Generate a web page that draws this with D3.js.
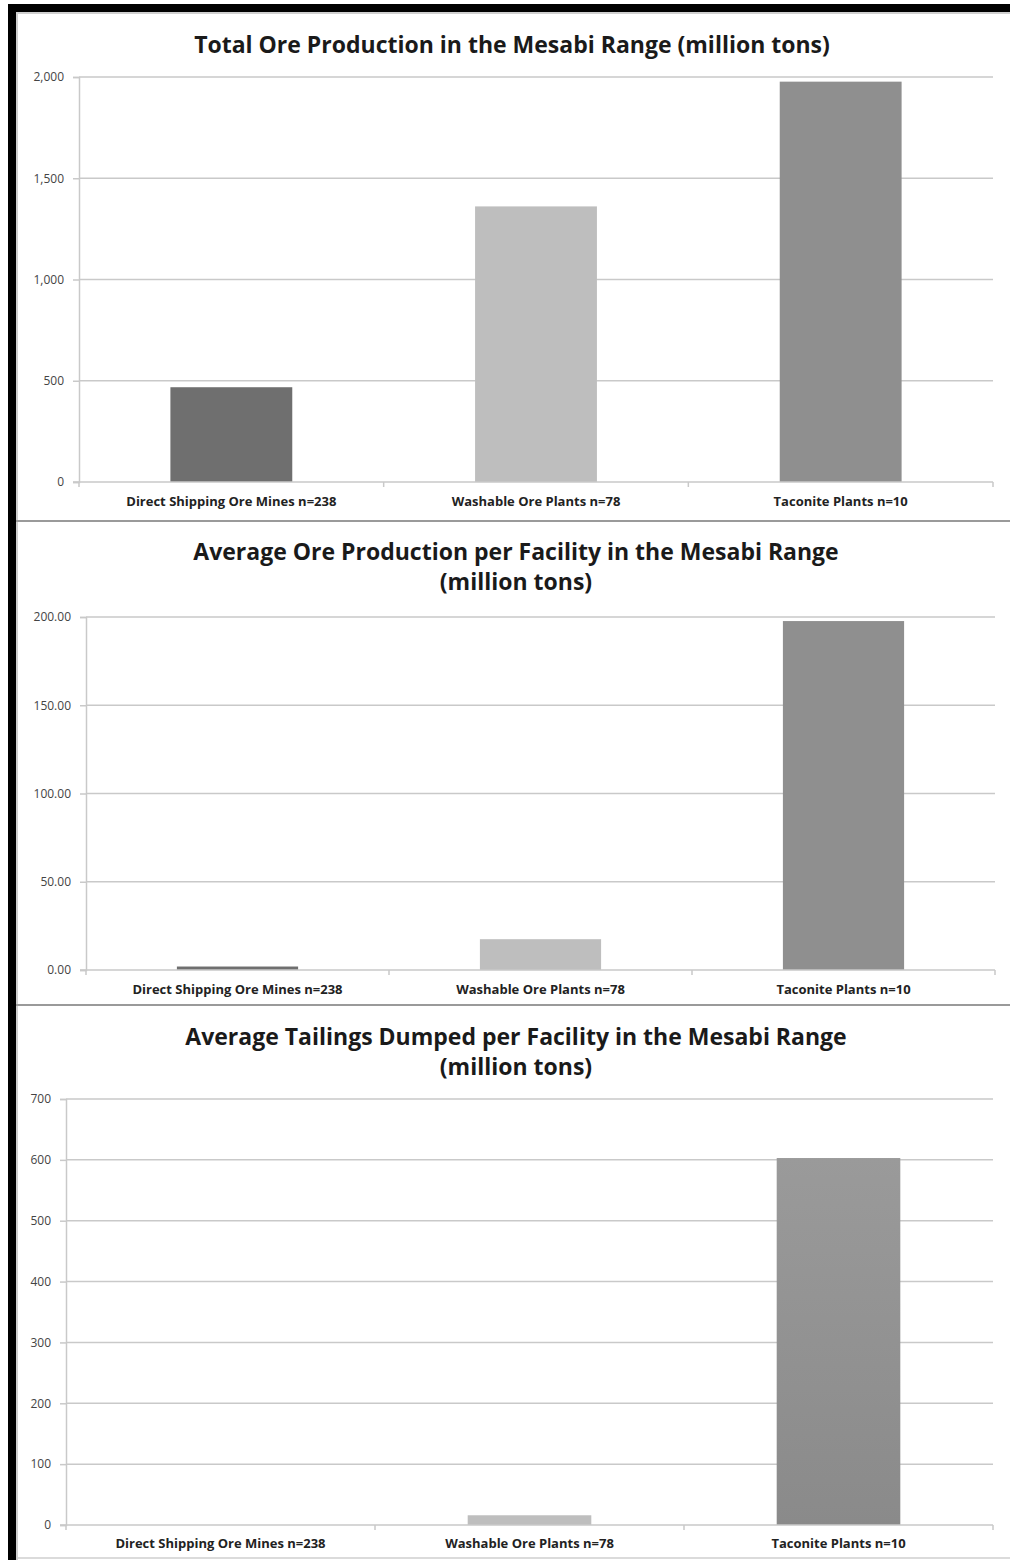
<!DOCTYPE html>
<html>
<head>
<meta charset="utf-8">
<script src="https://cdn.jsdelivr.net/npm/d3@7/dist/d3.min.js"></script>
<style>
  html, body { margin: 0; padding: 0; background: #fff; }
  svg { display: block; }
</style>
</head>
<body>
<script>
// Facility types on the Mesabi Range
const categories = ["Direct Shipping Ore Mines n=238", "Washable Ore Plants n=78", "Taconite Plants n=10"];

// Total ore production (million tons)
const totalProduction = [468, 1361, 1977];
// Average ore production per facility (million tons)
const avgProduction = [1.97, 17.45, 197.7];
// Average tailings dumped per facility (million tons)
const avgTailings = [0, 16, 603];

// Tick values for each panel
const ticksTotal = [0, 500, 1000, 1500, 2000];
const ticksAvgProd = [0, 50, 100, 150, 200];
const ticksTailings = [0, 100, 200, 300, 400, 500, 600, 700];

const barColors = ["#6f6f6f", "#bebebe", "#8f8f8f"];

const W = 1010, H = 1560;
const svg = d3.select("body").append("svg").attr("width", W).attr("height", H);

const defs = svg.append("defs");
const grad = defs.append("linearGradient").attr("id", "tacGrad")
  .attr("x1", 0).attr("y1", 0).attr("x2", 0).attr("y2", 1);
grad.append("stop").attr("offset", "0%").attr("stop-color", "#9a9a9a");
grad.append("stop").attr("offset", "100%").attr("stop-color", "#8a8a8a");

const FONT = "'Open Sans', Lato, sans-serif";

// Frame: heavy black edge on the left and top, thin grey rules elsewhere
svg.append("rect").attr("x", 8).attr("y", 4).attr("width", W - 8).attr("height", 8).attr("fill", "#000");
svg.append("rect").attr("x", 8).attr("y", 4).attr("width", 8).attr("height", H - 4).attr("fill", "#000");
svg.append("line").attr("x1", 16).attr("x2", W).attr("y1", 13).attr("y2", 13).attr("stroke", "#cfcfcf").attr("stroke-width", 2);
svg.append("line").attr("x1", 17).attr("x2", 17).attr("y1", 12).attr("y2", H).attr("stroke", "#cfcfcf").attr("stroke-width", 2);
[521, 1005].forEach(y => {
  svg.append("line").attr("x1", 16).attr("x2", W).attr("y1", y).attr("y2", y)
    .attr("stroke", "#9a9a9a").attr("stroke-width", 2);
});
svg.append("line").attr("x1", 16).attr("x2", W).attr("y1", 1558).attr("y2", 1558)
  .attr("stroke", "#cfcfcf").attr("stroke-width", 1.5);

function drawPanel(cfg) {
  const g = svg.append("g");

  cfg.title.forEach((t, i) => {
    g.append("text").attr("x", cfg.titleX).attr("y", cfg.titleY + i * 30)
      .attr("text-anchor", "middle").attr("font-family", FONT)
      .attr("font-weight", 700).attr("font-size", 23).attr("fill", "#1a1a1a")
      .text(t);
  });

  const x = d3.scaleBand().domain(categories).range([cfg.x0, cfg.x1]).paddingInner(0.6).paddingOuter(0.3);
  const band = d3.scaleBand().domain(categories).range([cfg.x0, cfg.x1]);
  const y = d3.scaleLinear().domain([0, cfg.max]).range([cfg.yBottom, cfg.yTop]);

  // Horizontal gridlines
  g.append("g").selectAll("line").data(cfg.ticks.filter(d => d > 0)).join("line")
    .attr("x1", cfg.x0).attr("x2", cfg.x1)
    .attr("y1", d => y(d)).attr("y2", d => y(d))
    .attr("stroke", "#c9c9c9").attr("stroke-width", 1.5);

  // Y axis
  const yAxis = d3.axisLeft(y).tickValues(cfg.ticks).tickFormat(cfg.fmt).tickSize(6).tickPadding(9);
  const ya = g.append("g").attr("transform", `translate(${cfg.x0},0)`).call(yAxis);
  ya.select(".domain").attr("stroke", "#c9c9c9").attr("stroke-width", 1.5);
  ya.selectAll(".tick line").attr("stroke", "#c9c9c9").attr("stroke-width", 1.5);
  ya.selectAll(".tick text").attr("font-family", FONT).attr("font-size", 12).attr("fill", "#444");

  // Bars
  const vals = cfg.values;
  g.append("g").selectAll("rect").data(categories).join("rect")
    .attr("x", d => x(d)).attr("width", x.bandwidth())
    .attr("y", (d, i) => y(vals[i]))
    .attr("height", (d, i) => y(0) - y(vals[i]))
    .attr("fill", (d, i) => (cfg.gradient && i === 2) ? "url(#tacGrad)" : barColors[i]);

  // X axis with tick marks at category boundaries
  const xa = g.append("g").attr("transform", `translate(0,${cfg.yBottom})`);
  xa.append("line").attr("x1", cfg.x0 - 6).attr("x2", cfg.x1).attr("stroke", "#c9c9c9").attr("stroke-width", 1.5);
  const bounds = categories.map(c => band(c)).concat([cfg.x1]);
  xa.selectAll("line.tk").data(bounds).join("line").attr("class", "tk")
    .attr("x1", d => d).attr("x2", d => d).attr("y1", 0).attr("y2", 5)
    .attr("stroke", "#c9c9c9").attr("stroke-width", 1.5);
  xa.selectAll("text").data(categories).join("text")
    .attr("x", d => band(d) + band.bandwidth() / 2).attr("y", cfg.labelDy)
    .attr("text-anchor", "middle").attr("font-family", FONT).attr("font-weight", 700)
    .attr("font-size", 13).attr("fill", "#222").text(d => d);
}

drawPanel({
  title: ["Total Ore Production in the Mesabi Range (million tons)"],
  titleX: 512, titleY: 53,
  x0: 79, x1: 993, yTop: 77, yBottom: 482,
  max: 2000, ticks: ticksTotal, fmt: d3.format(","),
  values: totalProduction, labelDy: 24
});

drawPanel({
  title: ["Average Ore Production per Facility in the Mesabi Range", "(million tons)"],
  titleX: 516, titleY: 560,
  x0: 86, x1: 995, yTop: 617, yBottom: 970,
  max: 200, ticks: ticksAvgProd, fmt: d3.format(".2f"),
  values: avgProduction, labelDy: 24
});

drawPanel({
  title: ["Average Tailings Dumped per Facility in the Mesabi Range", "(million tons)"],
  titleX: 516, titleY: 1045,
  x0: 66, x1: 993, yTop: 1099, yBottom: 1525,
  max: 700, ticks: ticksTailings, fmt: d3.format("d"),
  values: avgTailings, labelDy: 23, gradient: true
});
</script>
</body>
</html>
